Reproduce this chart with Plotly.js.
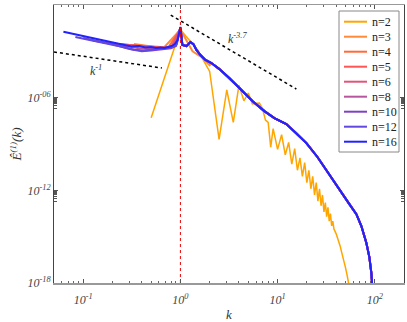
<!DOCTYPE html>
<html>
<head>
<meta charset="utf-8">
<script src="https://cdn.plot.ly/plotly-3.0.1.min.js"></script>
<style>
  body { margin: 0; background: #fff; }
  #chart { width: 407px; height: 322px; }
</style>
</head>
<body>
<div id="chart"></div>
<script>
// legend entries and colours
const nVals = [2, 3, 4, 5, 6, 8, 10, 12, 16];
const colors = ["#ffa500", "#ff8a3a", "#ff6a3a", "#ff5555", "#e0557a", "#b8559f", "#8040bf", "#6048e0", "#2222ff"];

// n=2 spectrum (log10 of E)
const k2 = [0.5, 1, 1.5, 2, 2.5, 3, 3.5, 4, 4.5, 5, 5.5, 6, 6.5, 7, 7.5, 8, 8.5, 9,
  10, 11, 12, 13, 14, 15, 16, 17, 18, 19, 20, 21, 22, 23, 24, 25, 26, 27, 28, 29, 30,
  31, 32, 33, 34, 35, 36, 37, 38, 40, 42, 44, 46, 48, 50, 52, 54, 56];
const e2 = [-7.3, -1.6, -2.9, -4.3, -8.7, -5.5, -7.6, -5.2, -6.2, -5.7, -6.4, -6.35, -6.35, -6.7, -7.45, -7.6, -9.2, -8.0,
  -9.35, -8.4, -9.7, -8.9, -10.3, -9.3, -10.7, -9.9, -11.1, -10.2, -11.5, -10.7, -11.9, -11.1, -12.3, -11.5, -12.7, -11.9, -13.0, -12.3, -13.4,
  -12.8, -13.7, -13.1, -14.0, -13.5, -14.3, -14.0, -14.5, -14.8, -15.2, -15.6, -16.1, -16.5, -17.0, -17.5, -18.0, -18.6];

// low-k part of each n >= 3
const k3 = [0.333, 0.667, 1, 1.333, 1.667, 2];
const e3 = [-2.53, -2.8, -1.6, -3.0, -3.4, -3.9];
const k4 = [0.25, 0.5, 0.75, 1];
const e4 = [-2.55, -2.7, -2.75, -1.55];
const k5 = [0.2, 0.4, 0.6, 0.8, 1];
const e5 = [-2.5, -2.65, -2.75, -2.75, -1.5];
const k6 = [0.167, 0.333, 0.5, 0.667, 0.833, 1];
const e6 = [-2.45, -2.65, -2.75, -2.8, -2.7, -1.5];
const k8 = [0.125, 0.25, 0.375, 0.5, 0.625, 0.75, 0.875, 1];
const e8 = [-2.3, -2.6, -2.8, -2.85, -2.8, -2.75, -2.6, -1.5];
const k10 = [0.1, 0.2, 0.3, 0.4, 0.5, 0.6, 0.7, 0.8, 0.9, 1];
const e10 = [-2.14, -2.55, -2.85, -3.0, -2.95, -2.9, -2.85, -2.8, -2.65, -1.45];
const k12 = [0.083, 0.167, 0.25, 0.333, 0.417, 0.5, 0.583, 0.667, 0.75, 0.833, 0.917, 1];
const e12 = [-2.07, -2.45, -2.7, -2.9, -2.95, -2.9, -2.85, -2.8, -2.75, -2.7, -2.55, -1.45];
const k16 = [0.0625, 0.125, 0.1875, 0.25, 0.3125, 0.375, 0.4375, 0.5, 0.5625, 0.625, 0.6875, 0.75, 0.8125, 0.875, 0.9375, 1];
const e16 = [-1.73, -2.15, -2.40, -2.56, -2.69, -2.66, -2.75, -2.72, -2.78, -2.75, -2.78, -2.72, -2.66, -2.53, -2.27, -1.42];

// shared high-k tail (curves n >= 3 lie on top of each other)
const kTail = [1.048, 1.153, 1.267, 1.36, 1.461, 1.606, 1.808, 2.084, 2.519, 3.19, 4.05, 5.5, 7.31, 9.27,
  12.3, 15.6, 19.8, 25.7, 34.1, 43.2, 54.8, 64.7, 72.8, 82.0, 88.0, 92.3, 94.4, 96.6];
const eTail = [-2.59, -2.66, -2.40, -2.53, -2.91, -3.24, -3.56, -3.76, -4.15, -4.73, -5.38, -6.22, -6.87, -7.32,
  -7.71, -8.30, -8.94, -9.84, -11.01, -11.98, -12.89, -13.54, -14.31, -15.41, -16.32, -17.36, -18.26, -19.2];

// reference slopes
const slope1K = [0.05, 0.645];
const slope1E = [-3.04, -4.08];
const slope37K = [0.795, 15.6];
const slope37E = [-0.65, -5.44];

const lowK = { 3: k3, 4: k4, 5: k5, 6: k6, 8: k8, 10: k10, 12: k12, 16: k16 };
const lowE = { 3: e3, 4: e4, 5: e5, 6: e6, 8: e8, 10: e10, 12: e12, 16: e16 };

const pow10 = arr => arr.map(v => Math.pow(10, v));

const traces = [];
nVals.forEach((n, i) => {
  let kx, ey;
  if (n === 2) {
    kx = k2; ey = e2;
  } else {
    const kl = lowK[n], el = lowE[n];
    const kmax = kl[kl.length - 1];
    kx = kl.slice(); ey = el.slice();
    kTail.forEach((k, j) => { if (k > kmax) { kx.push(k); ey.push(eTail[j]); } });
  }
  traces.push({
    x: kx, y: pow10(ey), type: "scatter", mode: "lines", name: "n=" + n, showlegend: false,
    line: { color: colors[i], width: n === 2 ? 1.5 : 2 },
  });
});

const serif = "Liberation Serif";

traces.push({ x: slope1K, y: pow10(slope1E), mode: "lines", showlegend: false, hoverinfo: "skip",
  line: { color: "#000", width: 1.5, dash: "dot" } });
traces.push({ x: slope37K, y: pow10(slope37E), mode: "lines", showlegend: false, hoverinfo: "skip",
  line: { color: "#000", width: 1.5, dash: "dot" } });
traces.push({ x: [1, 1], y: [1e-18, 1], mode: "lines", showlegend: false, hoverinfo: "skip",
  line: { color: "#e00", width: 1, dash: "dot" } });

const minorX = [];
for (let d = -2; d <= 2; d++) for (let m = 2; m <= 9; m++) minorX.push(m * Math.pow(10, d));
const minorY = [];
[-7, -13].forEach(d => { for (let m = 2; m <= 9; m++) minorY.push(m * Math.pow(10, d)); });

// hand-built legend (compact, like the original)
const px = x => (x - 54) / 350;
const py = y => 1 - (y - 5) / 278;
const shapes = [{
  type: "rect", xref: "paper", yref: "paper", x0: px(339), x1: px(399), y0: py(152), y1: py(11),
  line: { color: "#888", width: 1 }, fillcolor: "#fff", layer: "above",
}];
const annotations = [
  { x: -0.864, y: -4.21, xref: "x", yref: "y", text: "<i>k<sup>-1</sup></i>", showarrow: false,
    font: { family: serif, size: 12, color: "#333" } },
  { x: 0.586, y: -2.14, xref: "x", yref: "y", text: "<i>k<sup>-3.7</sup></i>", showarrow: false,
    font: { family: serif, size: 12, color: "#333" } },
];
nVals.forEach((n, i) => {
  const yc = 21.7 + 15 * i;
  shapes.push({ type: "line", xref: "paper", yref: "paper", x0: px(344), x1: px(367), y0: py(yc), y1: py(yc),
    line: { color: colors[i], width: 2 }, layer: "above" });
  annotations.push({ xref: "paper", yref: "paper", x: px(370), y: py(yc), xanchor: "left", yanchor: "middle",
    text: "n=" + n, showarrow: false, font: { family: serif, size: 12, color: "#222" } });
});

const layout = {
  width: 407, height: 322,
  margin: { l: 54, r: 3, t: 5, b: 39 },
  paper_bgcolor: "#fff", plot_bgcolor: "#fff",
  showlegend: false,
  xaxis: {
    type: "log", range: [Math.log10(0.05), Math.log10(200)],
    tickvals: [0.1, 1, 10, 100],
    ticktext: ["10<sup>-1</sup>", "10<sup>0</sup>", "10<sup>1</sup>", "10<sup>2</sup>"],
    tickfont: { family: serif, size: 12, color: "#444", style: "italic" },
    ticks: "inside", ticklen: 4, tickcolor: "#555", ticklabelstandoff: 5,
    minor: { tickmode: "array", tickvals: minorX, ticks: "inside", ticklen: 2, tickcolor: "#666" },
    showline: true, linecolor: "#999", linewidth: 1.5, mirror: "ticks",
    showgrid: false, zeroline: false,
    title: { text: "<i>k</i>", font: { family: serif, size: 13, color: "#333" }, standoff: 10 },
  },
  yaxis: {
    type: "log", range: [-18, 0],
    tickvals: [1e-18, 1e-12, 1e-6, 1],
    ticktext: ["10<sup>-18</sup>", "10<sup>-12</sup>", "10<sup>-06</sup>", "10<sup>00</sup>"],
    tickfont: { family: serif, size: 12, color: "#444", style: "italic" },
    ticks: "inside", ticklen: 4, tickcolor: "#555",
    minor: { tickmode: "array", tickvals: minorY, ticks: "inside", ticklen: 3, tickcolor: "#555" },
    showline: true, linecolor: "#444", linewidth: 1, mirror: "ticks",
    showgrid: false, zeroline: false,
    title: { text: "<i>Ê<sup>(1)</sup>(k)</i>", font: { family: serif, size: 13, color: "#333" }, standoff: 2 },
  },
  shapes: shapes,
  annotations: annotations,
};

Plotly.newPlot("chart", traces, layout, { displayModeBar: false, staticPlot: true });
</script>
</body>
</html>
